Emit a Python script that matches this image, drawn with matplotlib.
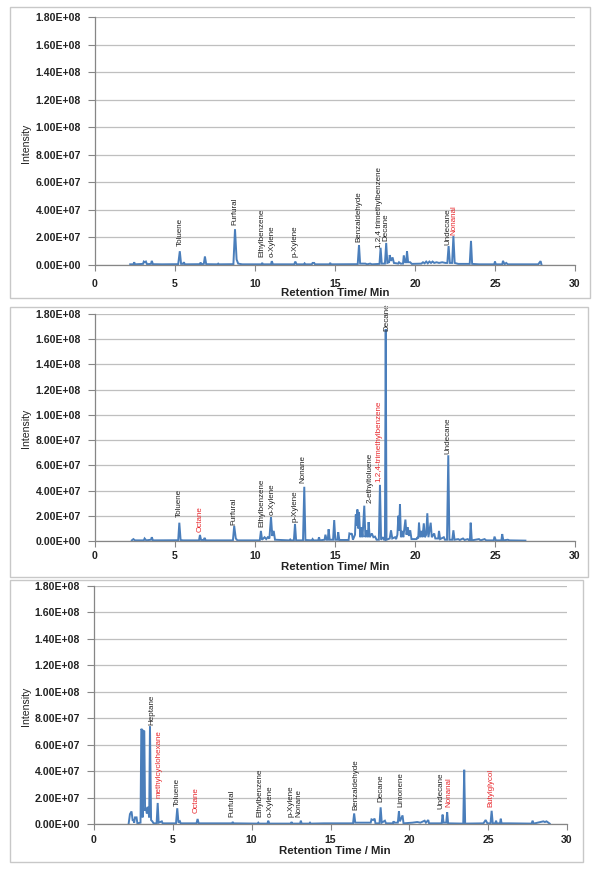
import matplotlib
matplotlib.use("Agg")
import matplotlib.pyplot as plt
from matplotlib.patches import Rectangle
from matplotlib import font_manager

# ---------------- data (intensity in units of 1e7) ----------------
p1_rt = [2.2, 2.4, 2.45, 2.5, 3.0, 3.05, 3.12, 3.18, 3.25, 3.5, 3.55, 3.62, 4.2, 5.2, 5.3, 5.38, 5.5, 5.55, 5.62,
         6.55, 6.6, 6.65, 6.8, 6.87, 6.95, 7.65, 7.7, 7.75, 8.65, 8.75, 8.85, 8.95, 9.2, 10.4, 10.45, 10.5,
         11.0, 11.05, 11.12, 12.45, 12.52, 12.6, 13.05, 13.1, 13.15, 13.55, 13.6, 13.7, 13.75, 14.65, 14.7, 14.75,
         16.42, 16.5, 16.57, 16.9, 17.0, 17.2, 17.3, 17.78, 17.85, 17.92, 18.12, 18.2, 18.27, 18.38, 18.42, 18.5,
         18.6, 18.68, 18.95, 19.0, 19.1, 19.25, 19.3, 19.38, 19.45, 19.5, 19.57, 19.7, 19.8, 20.4, 20.5, 20.6,
         20.7, 20.8, 20.9, 21.0, 21.1, 21.2, 21.35, 21.5, 21.7, 21.9, 22.02, 22.1, 22.18, 22.32, 22.4, 22.48,
         22.7, 23.42, 23.5, 23.57, 24.0, 24.95, 25.0, 25.05, 25.45, 25.5, 25.6, 25.7, 25.8, 27.7, 27.85, 27.9]
p1_int = [0.05, 0.05, 0.2, 0.05, 0.08, 0.25, 0.2, 0.25, 0.06, 0.08, 0.3, 0.06, 0.05, 0.06, 1.0, 0.08, 0.08, 0.2, 0.05,
          0.06, 0.18, 0.06, 0.08, 0.62, 0.06, 0.05, 0.1, 0.05, 0.06, 2.6, 0.4, 0.1, 0.05, 0.05, 0.15, 0.05,
          0.05, 0.28, 0.05, 0.05, 0.25, 0.05, 0.05, 0.12, 0.05, 0.05, 0.15, 0.15, 0.05, 0.05, 0.15, 0.05,
          0.06, 1.45, 0.1, 0.1, 0.05, 0.1, 0.05, 0.08, 1.25, 0.1, 0.1, 1.6, 0.15, 0.2, 0.72, 0.3,
          0.55, 0.15, 0.1, 0.2, 0.1, 0.1, 0.7, 0.2, 0.2, 1.0, 0.2, 0.2, 0.08, 0.1, 0.2, 0.12,
          0.25, 0.12, 0.25, 0.15, 0.25, 0.15, 0.2, 0.15, 0.2, 0.15, 0.15, 1.38, 0.15, 0.15, 2.1, 0.15,
          0.08, 0.08, 1.75, 0.08, 0.05, 0.05, 0.25, 0.05, 0.05, 0.3, 0.05, 0.15, 0.05, 0.05, 0.28, 0.05]

p2_rt = [2.3, 2.4, 2.5, 3.05, 3.1, 3.2, 3.5, 3.55, 3.62, 5.2, 5.27, 5.35, 5.5, 6.5, 6.56, 6.63, 6.8, 6.85, 6.92,
         8.62, 8.7, 8.8, 8.9, 10.3, 10.37, 10.44, 10.6, 10.7, 10.8, 10.9, 11.0, 11.08, 11.17, 11.25,
         12.15, 12.2, 12.25, 12.43, 12.5, 12.57, 13.0, 13.08, 13.15, 13.55, 13.6, 13.65, 13.95, 14.0, 14.05,
         14.35, 14.4, 14.48, 14.55, 14.6, 14.67, 14.88, 14.95, 15.02, 15.15, 15.2, 15.27, 15.85, 15.9, 16.0,
         16.05, 16.12, 16.25, 16.3, 16.35, 16.4, 16.45, 16.5, 16.58, 16.65, 16.72, 16.83, 16.9, 17.0, 17.05,
         17.1, 17.17, 17.3, 17.4, 17.5, 17.6, 17.74, 17.81, 17.88, 18.0, 18.07, 18.12, 18.17, 18.22, 18.42,
         18.5, 18.58, 18.75, 18.82, 18.9, 18.96, 19.01, 19.06, 19.12, 19.2, 19.27, 19.4, 19.47, 19.55, 19.62,
         19.7, 19.78, 20.1, 20.15, 20.2, 20.25, 20.32, 20.4, 20.47, 20.55, 20.62, 20.7, 20.77, 20.84, 20.98,
         21.05, 21.2, 21.27, 21.45, 21.5, 21.57, 21.8, 21.87, 22.0, 22.08, 22.15, 22.33, 22.4, 22.47, 22.7,
         22.8, 23.0, 23.1, 23.3, 23.38, 23.43, 23.48, 23.55, 24.0, 24.1, 24.35, 24.45, 24.92, 24.97, 25.05,
         25.4, 25.45, 25.52, 25.8, 25.9, 26.9]
p2_int = [0.05, 0.15, 0.05, 0.05, 0.2, 0.05, 0.1, 0.3, 0.05, 0.06, 1.45, 0.08, 0.05, 0.05, 0.48, 0.08, 0.08, 0.25, 0.05,
          0.05, 1.19, 0.2, 0.05, 0.05, 0.8, 0.1, 0.3, 0.15, 0.3, 0.2, 1.9, 0.4, 0.8, 0.1,
          0.05, 0.12, 0.05, 0.05, 1.35, 0.05, 0.05, 4.3, 0.08, 0.05, 0.15, 0.05, 0.05, 0.3, 0.05,
          0.1, 0.5, 0.1, 0.1, 0.93, 0.1, 0.1, 1.66, 0.1, 0.1, 0.7, 0.08, 0.08, 0.6, 0.55,
          0.6, 0.1, 0.5, 2.1, 1.2, 2.5, 1.0, 2.3, 0.3, 1.1, 0.3, 2.8, 0.3, 0.85, 0.3,
          1.5, 0.3, 0.6, 0.3, 0.35, 0.1, 0.1, 4.45, 0.1, 0.3, 0.1, 0.1, 16.8, 0.1, 0.2,
          0.85, 0.2, 0.3, 0.15, 0.5, 2.0, 0.8, 2.93, 0.3, 0.8, 0.3, 1.7, 0.5, 1.1, 0.4,
          0.85, 0.15, 0.15, 0.3, 0.2, 1.45, 0.3, 0.8, 0.3, 1.4, 0.3, 0.5, 2.2, 0.3, 1.45,
          0.3, 0.6, 0.2, 0.2, 0.8, 0.15, 0.3, 0.1, 0.1, 6.8, 0.1, 0.1, 0.85, 0.1, 0.15,
          0.08, 0.2, 0.08, 0.15, 0.05, 0.05, 1.45, 0.05, 0.15, 0.05, 0.15, 0.05, 0.05, 0.35, 0.05,
          0.05, 0.55, 0.05, 0.1, 0.05, 0.03]

p3_rt = [2.2, 2.28, 2.38, 2.45, 2.49, 2.55, 2.6, 2.7, 2.75, 2.95, 3.0, 3.05, 3.08, 3.1, 3.15, 3.19, 3.24, 3.3,
         3.35, 3.4, 3.45, 3.5, 3.55, 3.62, 3.7, 3.78, 3.97, 4.04, 4.1, 4.3, 4.35, 5.2, 5.28, 5.36, 5.45, 5.5,
         6.5, 6.57, 6.64, 8.75, 8.8, 8.85, 10.37, 10.42, 10.47, 11.0, 11.05, 11.12, 12.48, 12.53, 12.58,
         13.07, 13.12, 13.17, 13.65, 13.7, 13.75, 14.6, 16.43, 16.5, 16.57, 17.55, 17.6, 17.7, 17.8, 17.85,
         18.11, 18.18, 18.25, 18.45, 18.52, 18.95, 19.0, 19.05, 19.27, 19.34, 19.4, 19.57, 19.63, 20.2, 20.5,
         20.7, 20.97, 21.05, 21.2, 21.25, 22.05, 22.11, 22.17, 22.34, 22.4, 22.46, 23.42, 23.48, 23.54, 24.7,
         24.84, 24.95, 25.15, 25.22, 25.29, 25.45, 25.5, 25.55, 25.75, 25.8, 25.85, 26.3, 27.75, 27.82, 27.88,
         28.5, 28.6, 28.7, 28.9]
p3_int = [0.05, 0.75, 0.95, 0.3, 0.3, 0.1, 0.5, 0.5, 0.05, 0.1, 7.2, 7.1, 0.5, 7.1, 7.0, 7.05, 1.0, 1.2,
          0.8, 1.3, 1.0, 0.5, 7.37, 0.3, 0.2, 0.05, 0.05, 1.59, 0.1, 0.2, 0.05, 0.05, 1.19, 0.1, 0.2, 0.05,
          0.05, 0.38, 0.05, 0.05, 0.15, 0.05, 0.03, 0.1, 0.03, 0.03, 0.25, 0.03, 0.03, 0.15, 0.03,
          0.03, 0.25, 0.03, 0.03, 0.1, 0.03, 0.05, 0.05, 0.8, 0.1, 0.1, 0.35, 0.3, 0.4, 0.05,
          0.05, 1.26, 0.1, 0.25, 0.05, 0.05, 0.2, 0.1, 0.1, 0.96, 0.2, 0.65, 0.05, 0.1, 0.15,
          0.1, 0.25, 0.1, 0.3, 0.05, 0.05, 0.71, 0.1, 0.1, 0.88, 0.05, 0.03, 4.1, 0.03, 0.05,
          0.3, 0.05, 0.05, 1.0, 0.05, 0.05, 0.25, 0.05, 0.05, 0.4, 0.05, 0.05, 0.03, 0.25, 0.03,
          0.2, 0.15, 0.2, 0.03]

# peak labels: names, retention time, label base (1e7), red flag
p1_names = ["Toluene", "Furfural", "Ethylbenzene", "o-Xylene", "p-Xylene", "Benzaldehyde",
            "1,2,4 trimethylbenzene", "Decane", "Undecane", "Nonanal"]
p1_lrt = [5.3, 8.75, 10.4, 11.1, 12.5, 16.48, 17.77, 18.2, 22.08, 22.45]
p1_ly = [1.38, 2.9, 0.58, 0.6, 0.6, 1.69, 1.2, 1.74, 1.45, 2.17]
p1_red = [0, 0, 0, 0, 0, 0, 0, 0, 0, 1]

p2_names = ["Toluene", "Octane", "Furfural", "Ethylbenzene", "o-Xylene", "p-Xylene", "Nonane",
            "2-ethyltoluene", "1,2,4-trimethylbenzene", "Decane", "Undecane"]
p2_lrt = [5.27, 6.6, 8.65, 10.4, 11.05, 12.5, 13.0, 17.19, 17.77, 18.22, 22.08]
p2_ly = [1.93, 0.74, 1.27, 1.13, 2.06, 1.53, 4.58, 2.99, 4.7, 16.67, 6.9]
p2_red = [0, 1, 0, 0, 0, 0, 0, 0, 1, 0, 0]

p3_names = ["Heptane", "methylcyclohexane", "Toluene", "Octane", "Furfural", "Ethylbenzene", "o-Xylene",
            "p-Xylene", "Nonane", "Benzaldehyde", "Decane", "Limonene", "Undecane", "Nonanal", "Butylglycol"]
p3_lrt = [3.7, 4.12, 5.28, 6.47, 8.73, 10.53, 11.16, 12.49, 13.02, 16.6, 18.2, 19.45, 22.0, 22.5, 25.17]
p3_ly = [7.5, 2.0, 1.39, 0.8, 0.55, 0.55, 0.5, 0.55, 0.55, 1.06, 1.69, 1.31, 1.1, 1.31, 1.31]
p3_red = [0, 1, 0, 1, 0, 0, 0, 0, 0, 0, 0, 0, 0, 1, 1]

y_ticks = [0, 2e7, 4e7, 6e7, 8e7, 1e8, 1.2e8, 1.4e8, 1.6e8, 1.8e8]
y_ticklabels = ["0.00E+00", "2.00E+07", "4.00E+07", "6.00E+07", "8.00E+07", "1.00E+08",
                "1.20E+08", "1.40E+08", "1.60E+08", "1.80E+08"]
x_ticks = [0, 5, 10, 15, 20, 25, 30]
x_titles = ["Retention Time/ Min", "Retention Time/ Min", "Retention Time / Min"]

# ---------------- styling ----------------
W, H = 600, 872
avail = {f.name for f in font_manager.fontManager.ttflist}
narrow = "Liberation Sans Narrow" if "Liberation Sans Narrow" in avail else "Liberation Sans"
BLUE = "#4a7ebb"
GRID = "#bfbfbf"
AXC = "#868686"
RED = "#e8262b"
TXT = "#222222"

fig = plt.figure(figsize=(W / 100, H / 100), dpi=100)
fig.patch.set_facecolor("white")

def fx(px):
    return px / W

def fy(py):
    return 1 - py / H

# panel boxes (x0, y0, x1, y1) in pixels
boxes = [(10, 7, 590, 298), (10, 307, 588, 577), (10, 580, 583, 862)]
for (x0, y0, x1, y1) in boxes:
    fig.add_artist(Rectangle((fx(x0), fy(y1)), fx(x1 - x0), (y1 - y0) / H, transform=fig.transFigure,
                             fill=False, edgecolor="#c8c8c8", linewidth=1.0))

# axes rectangles: left px, right px, top px, bottom px
axes_px = [(95, 575, 17, 265), (95, 575, 314, 541), (94, 567, 586, 824)]
title_y = [293, 567, 851]
ylab_y = [143, 428, 706]
xpad = [6, 3, 4]

panels = [(p1_rt, p1_int, p1_names, p1_lrt, p1_ly, p1_red),
          (p2_rt, p2_int, p2_names, p2_lrt, p2_ly, p2_red),
          (p3_rt, p3_int, p3_names, p3_lrt, p3_ly, p3_red)]

for i, (rt, inten, names, lrt, ly, red) in enumerate(panels):
    l, r, t, b = axes_px[i]
    ax = fig.add_axes([fx(l), fy(b), (r - l) / W, (b - t) / H])
    ax.plot(rt, [v * 1e7 for v in inten], color=BLUE, linewidth=1.4, solid_joinstyle="miter")
    ax.set_xlim(0, 30)
    ax.set_ylim(0, 1.8e8)
    ax.set_yticks(y_ticks)
    ax.set_yticklabels(y_ticklabels)
    ax.set_xticks(x_ticks)
    ax.set_xticklabels([str(v) for v in x_ticks])
    for lab in ax.get_xticklabels() + ax.get_yticklabels():
        lab.set_fontfamily("Liberation Sans")
        lab.set_fontweight("bold")
        lab.set_fontsize(7.6)
        lab.set_color(TXT)
    ax.tick_params(axis="y", length=5, width=0.8, color=AXC, pad=5)
    ax.tick_params(axis="x", length=4, width=0.8, color=AXC, pad=xpad[i])
    ax.grid(axis="y", color=GRID, linewidth=0.9)
    ax.set_axisbelow(True)
    for s in ["top", "right"]:
        ax.spines[s].set_visible(False)
    for s in ["left", "bottom"]:
        ax.spines[s].set_color(AXC)
        ax.spines[s].set_linewidth(0.9)
    for n, x, y, rd in zip(names, lrt, ly, red):
        ax.text(x, y * 1e7, n, rotation=90, ha="center", va="bottom", fontsize=5.8,
                family=narrow, color=RED if rd else TXT)
    fig.text(fx(335), fy(title_y[i]), x_titles[i], ha="center", va="center", fontsize=8.2,
             fontweight="bold", family="Liberation Sans", color=TXT)
    fig.text(fx(26), fy(ylab_y[i]), "Intensity", rotation=90, ha="center", va="center", fontsize=7.6,
             family="Liberation Sans", color=TXT)

fig.savefig("out.png", dpi=100, facecolor="white")
